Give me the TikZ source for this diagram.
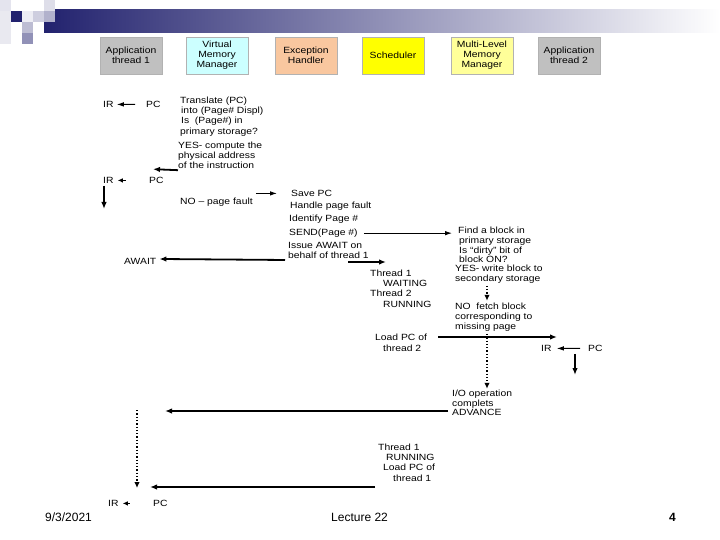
\documentclass[tikz,border=0pt]{standalone}
\usepackage{fontspec}
\setmainfont{Liberation Sans}
\newfontfamily\wideface{Liberation Sans}[FakeStretch=1.15, Ligatures=TeX]
\usetikzlibrary{arrows.meta, positioning}
\definecolor{navy}{HTML}{22226E}
\definecolor{boxgray}{HTML}{C0C0C0}
\definecolor{boxcyan}{HTML}{CCFFFF}
\definecolor{boxpeach}{HTML}{F9C79F}
\definecolor{boxyellow}{HTML}{FFFF00}
\definecolor{boxlight}{HTML}{FFFF99}
\tikzset{
    hdr/.style={rectangle, draw=black!30, line width=0.5pt, minimum width=62pt, minimum height=37pt, align=center, inner sep=1pt, font=\wideface\fontsize{9}{10}\selectfont},
    txt/.style={anchor=base west, inner sep=0pt, align=left, font=\wideface\fontsize{9}{10.2}\selectfont},
    foot/.style={anchor=base west, inner sep=0pt, font=\fontsize{12}{14}\selectfont},
    arr/.style={-{Latex[length=7pt, width=5.5pt]}, line width=1.8pt},
    thinarr/.style={-{Latex[length=7pt, width=4.5pt]}, line width=0.9pt},
    tinyarr/.style={-{Latex[length=5pt, width=4.5pt]}, line width=0.9pt},
    dotarr/.style={-{Latex[length=6pt, width=5.5pt]}, line width=1.3pt, dotted}
}
\begin{document}
\begin{tikzpicture}[x=1pt, y=-1pt]
    \useasboundingbox (0,0) rectangle (720,540);
    \fill[white] (0,0) rectangle (720,540);

    % --- Title bar ---
    \shade[left color=navy, right color=white] (44,10) rectangle (720,33);
    \fill[navy!12] (0,0) rectangle (11,11);
    \fill[navy!10] (0,11) rectangle (11,44);
    \fill[navy] (11,11) rectangle (22,22);
    \fill[navy!8] (22,11) rectangle (33,22);
    \fill[navy!22] (33,11) rectangle (44,22);
    \fill[navy!15] (44,0) rectangle (55,11);
    \fill[navy!35] (44,11) rectangle (55,22);
    \fill[navy!30] (22,22) rectangle (33,33);
    \fill[navy!50] (22,33) rectangle (33,44);

    % --- Participants ---
    \node (app1) [hdr, fill=boxgray] at (131,55.5) {Application\\thread 1};
    \node (vmm) [hdr, fill=boxcyan] at (217,55.5) {Virtual\\Memory\\Manager};
    \node (exh) [hdr, fill=boxpeach] at (306,55.5) {Exception\\Handler};
    \node (sched) [hdr, fill=boxyellow] at (393,55.5) {Scheduler};
    \node (mlmm) [hdr, fill=boxlight] at (482,55.5) {Multi-Level\\Memory\\Manager};
    \node (app2) [hdr, fill=boxgray] at (569,55.5) {Application\\thread 2};

    % --- Address translation (multi-line texts sit on their last line) ---
    \node (ir1) [txt] at (103,107.5) {IR};
    \node (pc1) [txt] at (146,107.5) {PC};
    \node (trans) [txt] at (180,134.1) {Translate (PC)\\\hspace*{1pt}into (Page\# Displ)\\\hspace*{1pt}Is\ \ (Page\#) in\\primary storage?};
    \node (yes1) [txt] at (178,168.9) {YES- compute the\\physical address\\of the instruction};
    \node (ir2) [txt] at (103,183.5) {IR};
    \node (pc2) [txt] at (149,183.5) {PC};
    \coordinate (drop1) at (104,209);

    \draw [thinarr] ([xshift=-11pt]pc1.west) -- ([xshift=3pt]ir1.east);
    \draw [arr] ([yshift=-1pt]yes1.south west) -- ([xshift=4pt]pc2.west |- yes1.south west);
    \draw [tinyarr] ([xshift=12pt]ir2.east) -- ([xshift=4pt]ir2.east);
    \draw [arr] ([yshift=-2pt]drop1 |- ir2.south) -- (drop1);

    % --- Page fault ---
    \node (nofault) [txt] at (180,204.5) {NO – page fault};
    \node (savepc) [txt] at (291,196.5) {Save PC};
    \node (handle) [txt] at (290,208.5) {Handle page fault};
    \node (ident) [txt] at (289,221.5) {Identify Page \#};
    \node (send) [txt] at (289,235.5) {SEND(Page \#)};
    \node (issue) [txt] at (288,258.7) {Issue AWAIT on\\behalf of thread 1};
    \node (await) [txt] at (124,264.5) {AWAIT};

    \draw [thinarr] ([xshift=3pt]nofault.east |- savepc.west) -- ([xshift=-14pt]savepc.west);
    \draw [arr] ([xshift=-3pt, yshift=-1pt]issue.south west) -- ([xshift=3pt]await.east |- issue.south west);

    % --- Scheduler ---
    \coordinate (sw1) at (348,262);
    \coordinate (sw2) at (386,262);
    \node (wait1) [txt] at (370,307.1) {Thread 1\\\hspace*{13pt}WAITING\\Thread 2\\\hspace*{13pt}RUNNING};
    \draw [arr] (sw1) -- (sw2);

    % --- Multi-level memory ---
    \coordinate (dcol) at (487,0);
    \node (find) [txt, font=\wideface\fontsize{9}{9.8}\selectfont] at (458,262.9) {Find a block in\\\hspace*{1pt}primary storage\\\hspace*{1pt}Is “dirty” bit of\\\hspace*{1pt}block ON?};
    \node (yes2) [txt] at (455,281.7) {YES- write block to\\secondary storage};
    \node (nofetch) [txt] at (455,329.9) {NO\ \ fetch block\\corresponding to\\missing page};
    \draw [thinarr] ([xshift=6pt]send.east) -- ([xshift=-6pt]send.east -| find.west);
    \draw [dotarr] ([yshift=-2pt]dcol |- yes2.south) -- ([yshift=2pt]dcol |- nofetch.north);

    % --- Thread 2 runs ---
    \node (load2) [txt, font=\wideface\fontsize{9}{11}\selectfont] at (375,351.5) {Load PC of\\\hspace*{8pt}thread 2};
    \node (ir3) [txt] at (541,351.5) {IR};
    \node (pc3) [txt] at (588,351.5) {PC};
    \coordinate (run2a) at (438,337);
    \coordinate (run2b) at (557,337);
    \coordinate (drop3) at (575,375);
    \draw [arr] (run2a) -- (run2b);
    \draw [thinarr] ([xshift=-8pt]pc3.west) -- ([xshift=5pt]ir3.east);
    \draw [arr] ([yshift=-2pt]drop3 |- pc3.south) -- (drop3);

    % --- I/O completes ---
    \node (io) [txt, font=\wideface\fontsize{9}{9.7}\selectfont] at (452,415.9) {I/O operation\\complets\\ADVANCE};
    \coordinate (advend) at (165,411);
    \draw [dotarr] ([yshift=-2pt]dcol |- nofetch.south) -- ([yshift=1pt]dcol |- io.north);
    \draw [arr] ([xshift=-4pt]io.west |- advend) -- (advend);

    % --- Thread 1 resumes ---
    \node (run1) [txt] at (378,481.1) {Thread 1\\\hspace*{8pt}RUNNING\\\hspace*{5pt}Load PC of\\\hspace*{15pt}thread 1};
    \node (ir4) [txt] at (108,506.5) {IR};
    \node (pc4) [txt] at (153,506.5) {PC};
    \coordinate (d3top) at (137,410);
    \coordinate (d3end) at (137,488);
    \coordinate (run1a) at (375,487);
    \coordinate (run1b) at (150,487);
    \draw [dotarr] (d3top) -- (d3end);
    \draw [arr] (run1a) -- (run1b);
    \draw [tinyarr] ([xshift=11pt]ir4.east) -- ([xshift=4pt]ir4.east);

    % --- Footer ---
    \node (date) [foot] at (45,521.5) {9/3/2021};
    \node (lecture) [foot] at (331,521.5) {Lecture 22};
    \node (pageno) [foot, font=\fontsize{12}{14}\selectfont\bfseries] at (669,521.5) {4};
\end{tikzpicture}
\end{document}
